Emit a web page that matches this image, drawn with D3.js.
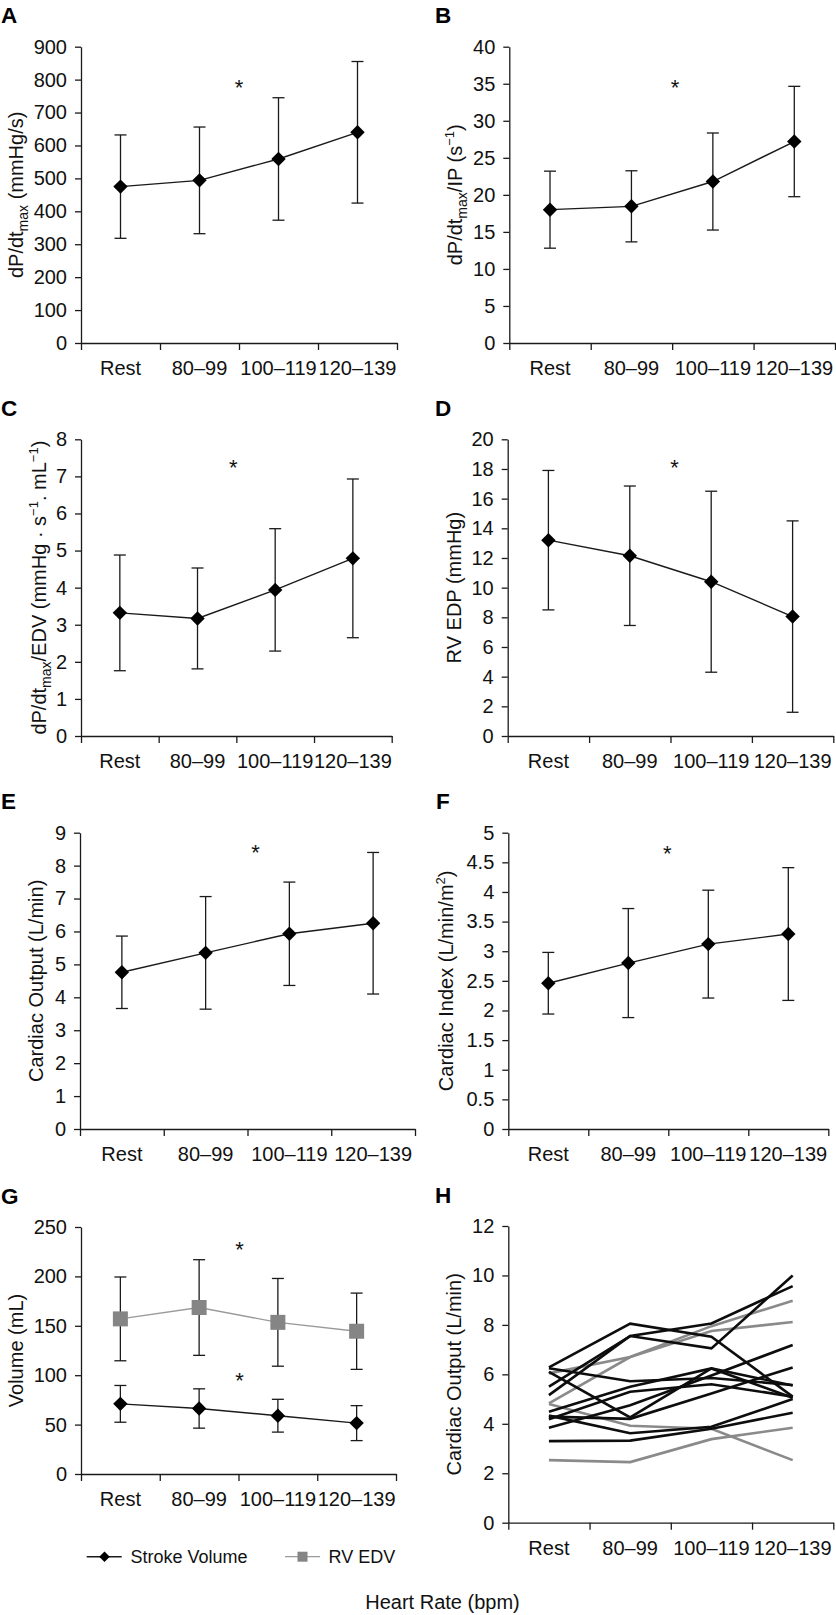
<!DOCTYPE html>
<html><head><meta charset="utf-8">
<script src="https://cdn.jsdelivr.net/npm/d3@7"></script>
<style>
body{margin:0;background:#fff;}
svg{display:block;font-family:"Liberation Sans",Arial,Helvetica,sans-serif;}
</style></head><body>
<svg id="chart" width="836" height="1615"></svg>
<script>
// ---------------- DATA ----------------
const categories = ["Rest", "80–99", "100–119", "120–139"];

// A: dP/dtmax (mmHg/s)
const dpdtMean = [475, 494, 559, 640];
const dpdtSD   = [157, 162, 186, 215];
const dpdtTicks = [0, 100, 200, 300, 400, 500, 600, 700, 800, 900];
// B: dP/dtmax/IP (s^-1)
const dpdtIPMean = [18.0, 18.45, 21.8, 27.2];
const dpdtIPSD   = [5.2, 4.8, 6.55, 7.45];
const dpdtIPTicks = [0, 5, 10, 15, 20, 25, 30, 35, 40];
// C: dP/dtmax/EDV
const dpdtEDVMean = [3.32, 3.17, 3.94, 4.79];
const dpdtEDVSD   = [1.56, 1.36, 1.65, 2.14];
const dpdtEDVTicks = [0, 1, 2, 3, 4, 5, 6, 7, 8];
// D: RV EDP (mmHg)
const rvEdpMean = [13.2, 12.15, 10.4, 8.05];
const rvEdpSD   = [4.7, 4.7, 6.1, 6.45];
const rvEdpTicks = [0, 2, 4, 6, 8, 10, 12, 14, 16, 18, 20];
// E: Cardiac output (L/min)
const coMean = [4.76, 5.35, 5.93, 6.25];
const coSD   = [1.1, 1.71, 1.57, 2.15];
const coTicks = [0, 1, 2, 3, 4, 5, 6, 7, 8, 9];
// F: Cardiac index (L/min/m2)
const ciMean = [2.46, 2.80, 3.12, 3.29];
const ciSD   = [0.52, 0.92, 0.91, 1.12];
const ciTicks = [0, 0.5, 1, 1.5, 2, 2.5, 3, 3.5, 4, 4.5, 5];
// G: Volume (mL)
const svMean  = [71, 66.3, 59, 51.5];
const svSD    = [18.6, 19.9, 16.6, 17.7];
const edvMean = [157, 168.5, 153.5, 144.5];
const edvSD   = [42.4, 48.4, 44.4, 38.6];
const volTicks = [0, 50, 100, 150, 200, 250];
// H: individual cardiac output (L/min)
const coIndivBlack = [
  [6.28, 8.05, 7.52, 5.10],
  [5.50, 7.55, 7.05, 10.0],
  [5.16, 7.55, 8.06, 9.57],
  [6.25, 5.72, 5.85, 5.57],
  [6.10, 4.26, 6.24, 5.05],
  [4.49, 5.50, 6.24, 5.55],
  [3.84, 4.75, 5.95, 7.19],
  [4.18, 5.30, 5.60, 5.10],
  [4.29, 4.20, 5.23, 6.28],
  [3.30, 3.32, 3.80, 4.45],
  [4.33, 3.62, 3.88, 5.00]
];
const coIndivGrey = [
  [6.04, 6.70, 7.75, 8.12],
  [4.83, 6.70, 7.95, 8.98],
  [4.80, 3.92, 3.80, 2.53],
  [2.53, 2.45, 3.38, 3.84]
];
const coIndivTicks = [0, 2, 4, 6, 8, 10, 12];

// significance asterisk heights (data units)
const starA = [790], starB = [35.1], starC = [7.38], starD = [18.45],
      starE = [8.54], starF = [4.74], starG = [231.8, 100.2];

// ---------------- DRAWING ----------------
const svg = d3.select("#chart");
const INK = "#1a1a1a";
const fmt = d3.format("~g");

function styleAxis(sel) {
  sel.attr("font-family", null).attr("font-size", 20);
  sel.selectAll("path,line").attr("stroke", INK).attr("stroke-width", 1.3);
  sel.selectAll("text").attr("fill", "#111");
}

function diamond(sel, x, y, size) {
  sel.append("path")
    .attr("d", d3.symbol(d3.symbolSquare, size)())
    .attr("transform", `translate(${x},${y}) rotate(45)`)
    .attr("fill", "#000");
}

function panel(o) {
  const g = svg.append("g");
  const x = d3.scaleBand().domain(categories).range([o.left, o.right]);
  const xt = d3.scaleLinear().domain([0, categories.length]).range([o.left, o.right]);
  const y = d3.scaleLinear().domain([0, d3.max(o.ticks)]).range([o.bottom, o.top]);
  const cx = d => x(d) + x.bandwidth() / 2;

  // y axis
  g.append("g").attr("transform", `translate(${o.left},0)`)
    .call(d3.axisLeft(y).tickValues(o.ticks).tickFormat(fmt).tickSize(6).tickPadding(8).tickSizeOuter(0))
    .call(styleAxis);
  // x axis line + boundary ticks
  g.append("g").attr("transform", `translate(0,${o.bottom})`)
    .call(d3.axisBottom(xt).tickValues(d3.range(0, categories.length + 1)).tickSize(7).tickSizeOuter(0).tickFormat(""))
    .call(styleAxis);
  // category labels
  g.append("g").attr("transform", `translate(0,${o.bottom})`)
    .call(d3.axisBottom(x).tickSize(0).tickPadding(18))
    .call(s => s.select(".domain").remove())
    .call(styleAxis);

  // y title
  const t = g.append("text")
    .attr("transform", `translate(${o.titleX},${(o.top + o.bottom) / 2}) rotate(-90)`)
    .attr("text-anchor", "middle").attr("font-size", 20).attr("fill", "#111");
  let shift = 0;
  o.title.forEach(seg => {
    const sp = t.append("tspan").text(seg.t);
    let target = 0;
    if (seg.sub) { sp.attr("font-size", 14); target = 5; }
    if (seg.sup) { sp.attr("font-size", 13); target = -8; }
    if (target !== shift) { sp.attr("dy", target - shift); shift = target; }
  });

  // panel letter
  g.append("text").attr("x", o.letterX).attr("y", o.top - 23.5)
    .attr("font-size", 22.5).attr("font-weight", "bold").attr("fill", "#000").text(o.letter);

  // series
  (o.series || []).forEach(s => {
    const pts = categories.map((c, i) => ({ c, m: s.mean[i], sd: s.sd[i] }));
    const eb = g.append("g").attr("stroke", INK).attr("stroke-width", 1.3);
    pts.forEach(p => {
      const xx = cx(p.c);
      eb.append("line").attr("x1", xx).attr("x2", xx).attr("y1", y(p.m - p.sd)).attr("y2", y(p.m + p.sd));
      eb.append("line").attr("x1", xx - 6).attr("x2", xx + 6).attr("y1", y(p.m - p.sd)).attr("y2", y(p.m - p.sd));
      eb.append("line").attr("x1", xx - 6).attr("x2", xx + 6).attr("y1", y(p.m + p.sd)).attr("y2", y(p.m + p.sd));
    });
    g.append("path").datum(pts)
      .attr("d", d3.line().x(p => cx(p.c)).y(p => y(p.m)))
      .attr("fill", "none").attr("stroke", s.lineColor).attr("stroke-width", s.lineWidth);
    pts.forEach(p => {
      if (s.marker === "square") {
        g.append("path").attr("d", d3.symbol(d3.symbolSquare, 225)())
          .attr("transform", `translate(${cx(p.c)},${y(p.m)})`).attr("fill", "#858585");
      } else {
        diamond(g, cx(p.c), y(p.m), 104);
      }
    });
  });

  // individual lines
  (o.indiv || []).forEach(grp => {
    grp.data.forEach(row => {
      g.append("path").datum(row)
        .attr("d", d3.line().x((v, i) => cx(categories[i])).y(v => y(v)))
        .attr("fill", "none").attr("stroke", grp.color).attr("stroke-width", 2.6)
        .attr("stroke-linejoin", "miter");
    });
  });

  // asterisks
  (o.stars || []).forEach(v => {
    g.append("text").attr("x", xt(2) + (o.starDx || 0)).attr("y", y(v) + 12.5)
      .attr("text-anchor", "middle").attr("font-size", 22).attr("fill", "#111").text("*");
  });
}

panel({ letter: "A", letterX: 1, left: 81, right: 397, top: 46.7, bottom: 343, ticks: dpdtTicks,
  titleX: 22.5, title: [{ t: "dP/dt" }, { t: "max", sub: true }, { t: " (mmHg/s)" }],
  series: [{ mean: dpdtMean, sd: dpdtSD, lineColor: INK, lineWidth: 1.4 }], stars: starA });

panel({ letter: "B", letterX: 435, left: 509.3, right: 835, top: 46.7, bottom: 343, ticks: dpdtIPTicks,
  titleX: 461.5, title: [{ t: "dP/dt" }, { t: "max", sub: true }, { t: "/IP (s" }, { t: "−1", sup: true }, { t: ")" }],
  series: [{ mean: dpdtIPMean, sd: dpdtIPSD, lineColor: INK, lineWidth: 1.4 }], stars: starB, starDx: 3 });

panel({ letter: "C", letterX: 1, left: 81, right: 391.7, top: 439.3, bottom: 736, ticks: dpdtEDVTicks,
  titleX: 46, title: [{ t: "dP/dt" }, { t: "max", sub: true }, { t: "/EDV (mmHg · s" }, { t: "−1", sup: true },
    { t: ". mL" }, { t: "−1", sup: true }, { t: ")" }],
  series: [{ mean: dpdtEDVMean, sd: dpdtEDVSD, lineColor: INK, lineWidth: 1.4 }], stars: starC, starDx: -3 });

panel({ letter: "D", letterX: 435, left: 507.7, right: 833.3, top: 439.3, bottom: 736, ticks: rvEdpTicks,
  titleX: 461, title: [{ t: "RV EDP (mmHg)" }],
  series: [{ mean: rvEdpMean, sd: rvEdpSD, lineColor: INK, lineWidth: 1.4 }], stars: starD, starDx: 4 });

panel({ letter: "E", letterX: 1, left: 80, right: 415, top: 832.7, bottom: 1129, ticks: coTicks,
  titleX: 43, title: [{ t: "Cardiac Output (L/min)" }],
  series: [{ mean: coMean, sd: coSD, lineColor: INK, lineWidth: 1.4 }], stars: starE, starDx: 8 });

panel({ letter: "F", letterX: 436, left: 508.3, right: 828.3, top: 832.7, bottom: 1129, ticks: ciTicks,
  titleX: 453, title: [{ t: "Cardiac Index (L/min/m" }, { t: "2", sup: true }, { t: ")" }],
  series: [{ mean: ciMean, sd: ciSD, lineColor: INK, lineWidth: 1.4 }], stars: starF, starDx: -1 });

panel({ letter: "G", letterX: 1, left: 81, right: 396, top: 1227, bottom: 1474, ticks: volTicks,
  titleX: 23, title: [{ t: "Volume (mL)" }],
  series: [
    { mean: edvMean, sd: edvSD, lineColor: "#9a9a9a", lineWidth: 1.3, marker: "square" },
    { mean: svMean, sd: svSD, lineColor: INK, lineWidth: 1.4 }
  ], stars: starG, starDx: 1 });

panel({ letter: "H", letterX: 435, left: 508.3, right: 833.3, top: 1226, bottom: 1522.7, ticks: coIndivTicks,
  titleX: 461, title: [{ t: "Cardiac Output (L/min)" }],
  indiv: [{ data: coIndivGrey, color: "#8a8a8a" }, { data: coIndivBlack, color: "#0d0d0d" }] });

// legend (panel G)
const lg = svg.append("g");
const ly = 1556.7;
lg.append("line").attr("x1", 86.7).attr("x2", 121.7).attr("y1", ly).attr("y2", ly).attr("stroke", INK).attr("stroke-width", 1.4);
diamond(lg, 104.5, ly, 56);
lg.append("text").attr("x", 130.5).attr("y", ly + 6.2).attr("font-size", 18).attr("fill", "#111").text("Stroke Volume");
lg.append("line").attr("x1", 285).attr("x2", 320).attr("y1", ly).attr("y2", ly).attr("stroke", "#9a9a9a").attr("stroke-width", 1.3);
lg.append("path").attr("d", d3.symbol(d3.symbolSquare, 100)()).attr("transform", `translate(302.5,${ly})`).attr("fill", "#858585");
lg.append("text").attr("x", 328.5).attr("y", ly + 6.2).attr("font-size", 18).attr("fill", "#111").text("RV EDV");

// common x title
svg.append("text").attr("x", 442.5).attr("y", 1609).attr("text-anchor", "middle")
  .attr("font-size", 20).attr("fill", "#111").text("Heart Rate (bpm)");
</script>
</body></html>
